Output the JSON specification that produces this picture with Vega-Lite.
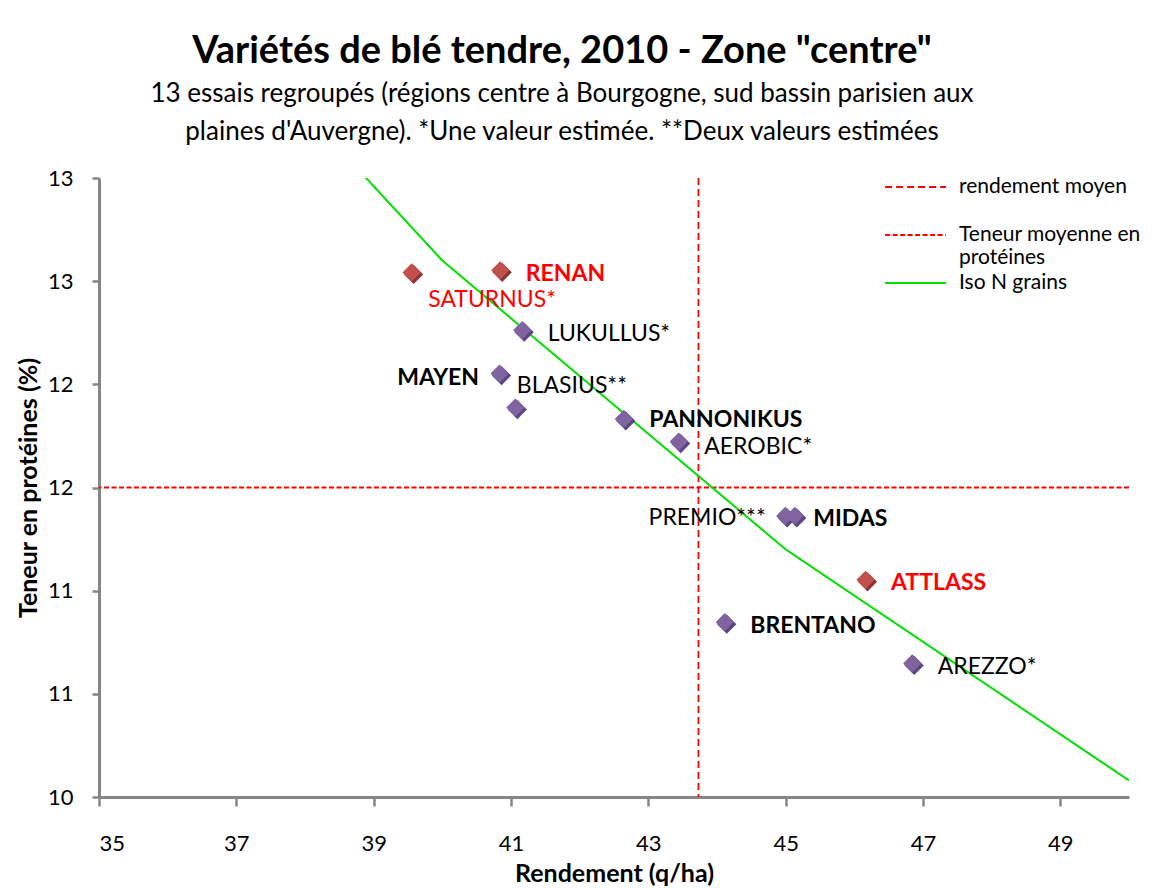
{
  "$schema": "https://vega.github.io/schema/vega-lite/v6.json",
  "width": 1030,
  "height": 619,
  "autosize": {"type": "none"},
  "padding": {"left": 99, "top": 178, "right": 27, "bottom": 91},
  "background": "white",
  "config": {
    "view": {"stroke": null},
    "font": "Lato",
    "axis": {
      "grid": false,
      "domainColor": "#868686",
      "domainWidth": 3,
      "tickColor": "#868686",
      "tickWidth": 2.5,
      "labelColor": "black",
      "labelFont": "Lato",
      "labelFontSize": 22,
      "titleColor": "black",
      "titleFont": "Lato",
      "titleFontSize": 25,
      "titleFontWeight": "bold"
    },
    "legend": {
      "orient": "none",
      "legendX": 785,
      "legendY": -2,
      "symbolType": "stroke",
      "symbolSize": 3700,
      "symbolStrokeWidth": 2,
      "labelFont": "Lato",
      "labelFontSize": 21,
      "labelColor": "black",
      "labelOffset": 12,
      "labelLimit": 400,
      "clipHeight": 22,
      "rowPadding": 4,
      "padding": 0
    }
  },
  "title": {
    "text": "Variétés de blé tendre, 2010 - Zone \"centre\"",
    "subtitle": [
      "13 essais regroupés (régions centre à Bourgogne, sud bassin parisien aux",
      "plaines d'Auvergne). *Une valeur estimée. **Deux valeurs estimées"
    ],
    "anchor": "middle",
    "dx": -52,
    "offset": 22,
    "font": "Lato",
    "fontSize": 38,
    "fontWeight": "bold",
    "color": "black",
    "subtitleFont": "Lato",
    "subtitleFontSize": 26,
    "subtitleColor": "black",
    "subtitleLineHeight": 38,
    "subtitlePadding": 10
  },
  "datasets": {
    "varietes": [
      {"variete": "SATURNUS*", "rendement": 39.56, "teneur": 12.54, "serie": "S2"},
      {"variete": "RENAN", "rendement": 40.85, "teneur": 12.55, "serie": "S2"},
      {"variete": "LUKULLUS*", "rendement": 41.17, "teneur": 12.26, "serie": "S1"},
      {"variete": "MAYEN", "rendement": 40.84, "teneur": 12.05, "serie": "S1"},
      {"variete": "BLASIUS**", "rendement": 41.07, "teneur": 11.885, "serie": "S1"},
      {"variete": "PANNONIKUS", "rendement": 42.65, "teneur": 11.83, "serie": "S1"},
      {"variete": "AEROBIC*", "rendement": 43.45, "teneur": 11.72, "serie": "S1"},
      {"variete": "PREMIO***", "rendement": 45.0, "teneur": 11.36, "serie": "S1"},
      {"variete": "MIDAS", "rendement": 45.14, "teneur": 11.36, "serie": "S1"},
      {"variete": "ATTLASS", "rendement": 46.17, "teneur": 11.05, "serie": "S2"},
      {"variete": "BRENTANO", "rendement": 44.12, "teneur": 10.845, "serie": "S1"},
      {"variete": "AREZZO*", "rendement": 46.85, "teneur": 10.645, "serie": "S1"}
    ],
    "moyennes": [
      {"serie": "rendement moyen", "rendement": 43.73},
      {"serie": "Teneur moyenne en protéines", "teneur": 11.5}
    ],
    "iso": [
      {"serie": "Iso N grains", "rendement": 35, "teneur": 14.4},
      {"serie": "Iso N grains", "rendement": 40, "teneur": 12.6},
      {"serie": "Iso N grains", "rendement": 45, "teneur": 11.2},
      {"serie": "Iso N grains", "rendement": 50, "teneur": 10.08}
    ]
  },
  "encoding": {
    "x": {
      "field": "rendement",
      "type": "quantitative",
      "scale": {"domain": [35, 50], "nice": false, "zero": false},
      "axis": {
        "title": "Rendement (q/ha)",
        "values": [35, 37, 39, 41, 43, 45, 47, 49],
        "tickSize": 9,
        "labelPadding": 27,
        "titlePadding": 7
      }
    },
    "y": {
      "field": "teneur",
      "type": "quantitative",
      "scale": {"domain": [10, 13], "nice": false, "zero": false},
      "axis": {
        "title": "Teneur en protéines (%)",
        "values": [10, 10.5, 11, 11.5, 12, 12.5, 13],
        "labelExpr": "format(round(datum.value), 'd')",
        "tickSize": 7,
        "labelPadding": 19,
        "titlePadding": 6
      }
    }
  },
  "layer": [
    {
      "data": {"name": "moyennes"},
      "transform": [{"filter": "datum.serie == 'rendement moyen'"}],
      "mark": {"type": "rule", "strokeWidth": 1.8},
      "encoding": {
        "y": null,
        "color": {
          "field": "serie",
          "type": "nominal",
          "scale": {
            "domain": ["rendement moyen", "Teneur moyenne en protéines", "Iso N grains"],
            "range": ["#FF0000", "#FF0000", "#00E000"]
          },
          "legend": {
            "title": null,
            "labelExpr": "datum.label == 'Teneur moyenne en protéines' ? ['Teneur moyenne en', 'protéines'] : datum.label == 'rendement moyen' ? ['rendement moyen', ''] : datum.label"
          }
        },
        "strokeDash": {
          "field": "serie",
          "type": "nominal",
          "scale": {
            "domain": ["rendement moyen", "Teneur moyenne en protéines", "Iso N grains"],
            "range": [[7, 4], [5, 2.5], [1, 0]]
          },
          "legend": {
            "title": null,
            "labelExpr": "datum.label == 'Teneur moyenne en protéines' ? ['Teneur moyenne en', 'protéines'] : datum.label == 'rendement moyen' ? ['rendement moyen', ''] : datum.label"
          }
        }
      }
    },
    {
      "data": {"name": "moyennes"},
      "transform": [{"filter": "datum.serie == 'Teneur moyenne en protéines'"}],
      "mark": {"type": "rule", "strokeWidth": 1.8},
      "encoding": {
        "x": null,
        "color": {"field": "serie", "type": "nominal"},
        "strokeDash": {"field": "serie", "type": "nominal"}
      }
    },
    {
      "data": {"name": "iso"},
      "mark": {"type": "line", "strokeWidth": 2, "clip": true},
      "encoding": {
        "color": {"field": "serie", "type": "nominal"},
        "strokeDash": {"field": "serie", "type": "nominal"}
      }
    },
    {
      "data": {"name": "varietes"},
      "mark": {"type": "point", "shape": "diamond", "filled": true, "size": 370, "opacity": 1, "xOffset": 1.5, "yOffset": 1.5},
      "encoding": {
        "fill": {
          "field": "serie",
          "type": "nominal",
          "scale": {"domain": ["S1", "S2"], "range": ["#5B4582", "#8E3634"]},
          "legend": null
        }
      }
    },
    {
      "data": {"name": "varietes"},
      "mark": {"type": "point", "shape": "diamond", "filled": true, "size": 330, "opacity": 1, "xOffset": -0.5, "yOffset": -0.5},
      "encoding": {
        "fill": {
          "field": "serie",
          "type": "nominal",
          "scale": {"domain": ["S1", "S2"], "range": ["#8064A2", "#C0504D"]},
          "legend": null
        }
      }
    },
    {
      "data": {"name": "varietes"},
      "transform": [{"filter": {"field": "variete", "oneOf": ["RENAN", "ATTLASS"]}}],
      "mark": {"type": "text", "align": "left", "baseline": "middle", "dx": 25, "dy": 3, "font": "Lato", "fontSize": 23, "fontWeight": "bold", "color": "#FF0000"},
      "encoding": {"text": {"field": "variete"}}
    },
    {
      "data": {"name": "varietes"},
      "transform": [{"filter": {"field": "variete", "oneOf": ["SATURNUS*"]}}],
      "mark": {"type": "text", "align": "center", "baseline": "middle", "dx": 80, "dy": 27, "font": "Lato", "fontSize": 23, "color": "#FF0000"},
      "encoding": {"text": {"field": "variete"}}
    },
    {
      "data": {"name": "varietes"},
      "transform": [{"filter": {"field": "variete", "oneOf": ["BRENTANO"]}}],
      "mark": {"type": "text", "align": "left", "baseline": "middle", "dx": 25, "dy": 3, "font": "Lato", "fontSize": 23, "fontWeight": "bold", "color": "black"},
      "encoding": {"text": {"field": "variete"}}
    },
    {
      "data": {"name": "varietes"},
      "transform": [{"filter": {"field": "variete", "oneOf": ["PANNONIKUS"]}}],
      "mark": {"type": "text", "align": "left", "baseline": "middle", "dx": 25, "dy": 1, "font": "Lato", "fontSize": 23, "fontWeight": "bold", "color": "black"},
      "encoding": {"text": {"field": "variete"}}
    },
    {
      "data": {"name": "varietes"},
      "transform": [{"filter": {"field": "variete", "oneOf": ["MIDAS"]}}],
      "mark": {"type": "text", "align": "left", "baseline": "middle", "dx": 18, "dy": 3, "font": "Lato", "fontSize": 23, "fontWeight": "bold", "color": "black"},
      "encoding": {"text": {"field": "variete"}}
    },
    {
      "data": {"name": "varietes"},
      "transform": [{"filter": {"field": "variete", "oneOf": ["MAYEN"]}}],
      "mark": {"type": "text", "align": "right", "baseline": "middle", "dx": -21, "dy": 4, "font": "Lato", "fontSize": 23, "fontWeight": "bold", "color": "black"},
      "encoding": {"text": {"field": "variete"}}
    },
    {
      "data": {"name": "varietes"},
      "transform": [{"filter": {"field": "variete", "oneOf": ["LUKULLUS*", "AREZZO*"]}}],
      "mark": {"type": "text", "align": "left", "baseline": "middle", "dx": 25, "dy": 3, "font": "Lato", "fontSize": 23, "color": "black"},
      "encoding": {"text": {"field": "variete"}}
    },
    {
      "data": {"name": "varietes"},
      "transform": [{"filter": {"field": "variete", "oneOf": ["AEROBIC*"]}}],
      "mark": {"type": "text", "align": "left", "baseline": "middle", "dx": 25, "dy": 5, "font": "Lato", "fontSize": 23, "color": "black"},
      "encoding": {"text": {"field": "variete"}}
    },
    {
      "data": {"name": "varietes"},
      "transform": [{"filter": {"field": "variete", "oneOf": ["PREMIO***"]}}],
      "mark": {"type": "text", "align": "right", "baseline": "middle", "dx": -20, "dy": 2, "font": "Lato", "fontSize": 23, "color": "black"},
      "encoding": {"text": {"field": "variete"}}
    },
    {
      "data": {"name": "varietes"},
      "transform": [{"filter": {"field": "variete", "oneOf": ["BLASIUS**"]}}],
      "mark": {"type": "text", "align": "left", "baseline": "middle", "dx": 1, "dy": -22, "font": "Lato", "fontSize": 23, "color": "black"},
      "encoding": {"text": {"field": "variete"}}
    }
  ],
  "resolve": {"scale": {"fill": "independent"}}
}
